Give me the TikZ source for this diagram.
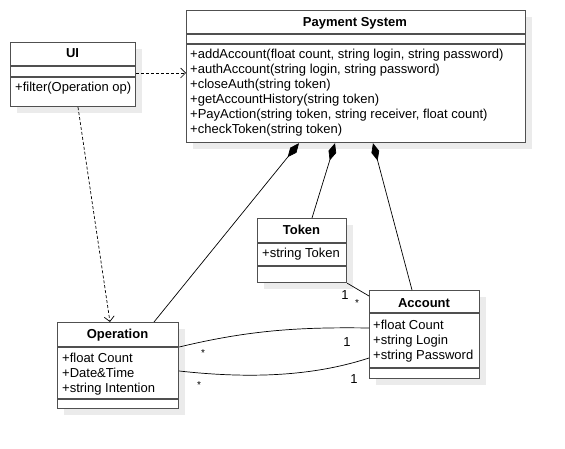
\documentclass[tikz,border=0pt]{standalone}
\usepackage{fontspec}
\setmainfont{Liberation Sans}
\usetikzlibrary{arrows.meta,calc,shadows}
\definecolor{boxline}{HTML}{505050}
\definecolor{shadowgray}{HTML}{EBEBEB}
\begin{document}
\begin{tikzpicture}[x=1pt,y=-1pt,
  classbox/.style={draw=boxline, line width=1.2pt, fill=white, anchor=north west, inner sep=0pt,
    general shadow={fill=shadowgray, shadow xshift=6pt, shadow yshift=-6pt}},
  divider/.style={draw=boxline, line width=1.2pt},
  title/.style={font=\bfseries\fontsize{13}{15}\selectfont, anchor=base, inner sep=0pt},
  member/.style={font=\fontsize{13}{15}\selectfont, anchor=base west, inner sep=0pt},
  conn/.style={draw=black, line width=0.7pt},
  dep/.style={conn, dash pattern=on 3pt off 2pt, -{Straight Barb[length=5pt,width=10pt]}},
  comp/.style={conn, -{Diamond[length=18pt,width=8pt,fill=black]}},
  mult/.style={font=\fontsize{13}{15}\selectfont, inner sep=0pt},
  star/.style={font=\fontsize{10}{12}\selectfont, inner sep=0pt},
]
\useasboundingbox[fill=white] (0,0) rectangle (565,449);

% Payment System
\node[classbox, minimum width=339pt, minimum height=132pt] (ps) at (186,10) {};
\draw[divider] (186,34) -- (525,34);
\draw[divider] (186,44) -- (525,44);
\node[title] (pst) at (355,27) {Payment System};
\node[member] (psm1) at (190,59) {+addAccount(float count, string login, string password)};
\node[member] (psm2) at (190,74) {+authAccount(string login, string password)};
\node[member] (psm3) at (190,89) {+closeAuth(string token)};
\node[member] (psm4) at (190,104) {+getAccountHistory(string token)};
\node[member] (psm5) at (190,119) {+PayAction(string token, string receiver, float count)};
\node[member] (psm6) at (190,134) {+checkToken(string token)};

% UI
\node[classbox, minimum width=125pt, minimum height=64pt] (ui) at (10,42) {};
\draw[divider] (10,66) -- (135,66);
\draw[divider] (10,77) -- (135,77);
\node[title] (uit) at (72.5,58) {UI};
\node[member] (uim1) at (15,92) {+filter(Operation op)};

% Token
\node[classbox, minimum width=89pt, minimum height=64pt] (tok) at (257,218) {};
\draw[divider] (257,243) -- (346,243);
\draw[divider] (257,266) -- (346,266);
\node[title] (tokt) at (301.5,235) {Token};
\node[member] (tokm1) at (262,258) {+string Token};

% Account
\node[classbox, minimum width=110pt, minimum height=88pt] (acc) at (369,290) {};
\draw[divider] (369,313) -- (479,313);
\draw[divider] (369,368) -- (479,368);
\node[title] (acct) at (424,307) {Account};
\node[member] (accm1) at (373,329) {+float Count};
\node[member] (accm2) at (373,344) {+string Login};
\node[member] (accm3) at (373,359) {+string Password};

% Operation
\node[classbox, minimum width=121pt, minimum height=86pt] (op) at (57,322) {};
\draw[divider] (57,347) -- (178,347);
\draw[divider] (57,399) -- (178,399);
\node[title] (opt) at (117.5,338) {Operation};
\node[member] (opm1) at (62,362) {+float Count};
\node[member] (opm2) at (62,377) {+Date\&Time};
\node[member] (opm3) at (62,392) {+string Intention};

% dependencies
\draw[dep] (ui.east |- 0,73) -- (ps.west |- 0,73);
\draw[dep] ($(ui.south west)+(68,0)$) -- ($(op.north west)+(53,0)$);

% compositions
\draw[comp] ($(op.north west)+(97,0)$) -- ($(ps.south west)+(113,0)$);
\draw[comp] ($(tok.north west)+(55,0)$) -- ($(ps.south west)+(149,0)$);
\draw[comp] ($(acc.north west)+(43,0)$) -- ($(ps.south west)+(187,0)$);

% associations
\draw[conn] (tok.south east) -- ($(acc.north west)+(0,6)$);
\node[mult] (m1) at (345,295) {1};
\node[star] (m2) at (357,303) {*};

\draw[conn] (op.east |- 0,347) .. controls (250,330) and (300,327) .. (acc.west |- 0,328);
\node[star] (m3) at (203,353) {*};
\node[mult] (m4) at (347,342) {1};

\draw[conn] (op.east |- 0,371) .. controls (260,380) and (320,374) .. (acc.west |- 0,358);
\node[star] (m5) at (199,385) {*};
\node[mult] (m6) at (354,379) {1};
\end{tikzpicture}
\end{document}
